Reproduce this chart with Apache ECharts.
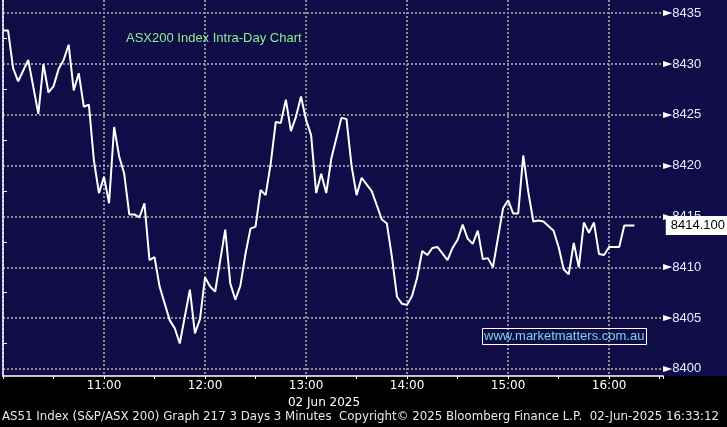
<!DOCTYPE html>
<html>
<head>
<meta charset="utf-8">
<script src="https://cdn.jsdelivr.net/npm/echarts@6/dist/echarts.min.js"></script>
<style>
  html, body { margin: 0; padding: 0; background: #000; }
  #chart { width: 727px; height: 427px; }
</style>
</head>
<body>
<div id="chart"></div>
<script>
// Minutes after 10:00 (3-minute bars) and index level at each visible vertex
const minutesFromOpen = [0,3,6,9,15,21,24,27,30,33,36,39,42,45,48,51,54,57,60,63,66,69,72,75,78,81,84,87,90,93,99,102,105,111,114,117,120,123,126,132,135,138,141,144,147,150,153,156,159,162,165,168,171,174,177,180,183,186,189,192,195,201,204,207,210,213,219,222,225,228,231,234,237,240,243,246,249,252,255,258,264,267,270,273,276,279,282,285,288,291,297,300,303,306,309,312,315,318,321,327,330,333,336,339,342,345,348,351,354,357,360,366,369,375];
const levels = [8433.3,8433.3,8429.6,8428.3,8430.4,8425.1,8430.0,8427.2,8427.8,8429.5,8430.4,8431.9,8427.4,8429.1,8425.8,8426.0,8420.5,8417.3,8418.9,8416.3,8423.8,8420.9,8419.2,8415.2,8415.2,8414.9,8416.3,8410.7,8411.0,8408.1,8404.8,8404.0,8402.5,8407.8,8403.5,8404.9,8409.0,8408.1,8407.6,8413.7,8408.4,8406.8,8408.2,8411.3,8413.8,8414.0,8417.6,8417.1,8420.2,8424.3,8424.2,8426.5,8423.4,8424.8,8426.8,8424.5,8423.0,8417.3,8419.2,8417.3,8420.7,8424.7,8424.6,8420.0,8417.1,8418.8,8417.5,8416.1,8414.7,8414.3,8411.0,8407.1,8406.4,8406.3,8407.2,8409.0,8411.6,8411.2,8411.9,8412.0,8410.7,8411.9,8412.7,8414.2,8412.8,8412.3,8413.6,8410.8,8410.9,8410.0,8415.8,8416.6,8415.3,8415.3,8421.0,8417.4,8414.5,8414.6,8414.5,8413.6,8412.0,8409.8,8409.3,8412.4,8410.0,8414.4,8413.4,8414.4,8411.3,8411.2,8412.0,8412.0,8414.1,8414.1];
const openHour = 10;
const lastPrice = 8414.1;
const yMin = 8399.3, yMax = 8436.3;
const xMax = 392;
const titleText = 'ASX200 Index Intra-Day Chart';
const dateText = '02 Jun 2025';
const watermarkText = 'www.marketmatters.com.au';
const footerText = 'AS51 Index (S&P/ASX 200) Graph 217 3 Days 3 Minutes  Copyright\u00A9 2025 Bloomberg Finance L.P.  02-Jun-2025 16:33:12';

const NAVY = '#0f0c47';
const GRID = '#8c8c94';

const chart = echarts.init(document.getElementById('chart'), null, { renderer: 'canvas' });
const seriesData = minutesFromOpen.map((m, i) => [m, levels[i]]);

chart.setOption({
  backgroundColor: '#000',
  animation: false,
  graphic: [{
    type: 'rect', left: 0, top: 0, z: -10, silent: true,
    shape: { width: 727, height: 376 }, style: { fill: NAVY }
  }],
  title: [
    { text: titleText, left: 126, top: 32, padding: 0,
      textStyle: { color: '#8ef08e', fontSize: 13, fontWeight: 'normal', fontFamily: 'Liberation Sans' } },
    { text: watermarkText, left: 482, top: 328, padding: [2, 2, 2, 2], borderColor: '#ffffff', borderWidth: 1,
      textStyle: { color: '#78d6e6', fontSize: 13, fontWeight: 'normal', fontFamily: 'Liberation Sans' } },
    { text: footerText, left: 2, top: 411, padding: 0,
      textStyle: { color: '#e8e8e8', fontSize: 11.8, fontWeight: 'normal', fontFamily: 'DejaVu Sans' } }
  ],
  grid: { left: 0, right: 64, top: 0, bottom: 51, containLabel: false },
  xAxis: {
    type: 'value', min: 0, max: xMax, interval: 60,
    name: dateText, nameLocation: 'middle', nameGap: 19,
    nameTextStyle: { color: '#ffffff', fontSize: 12, fontFamily: 'DejaVu Sans', padding: [0, 18, 0, 0], verticalAlign: 'top' },
    axisLine: { show: true, lineStyle: { color: '#ffffff', width: 1.5 } },
    axisTick: { show: true, length: 3, lineStyle: { color: '#ffffff' } },
    minorTick: { show: true, splitNumber: 2, length: 3, lineStyle: { color: '#ffffff' } },
    axisLabel: {
      color: '#ffffff', fontSize: 12, fontFamily: 'DejaVu Sans', margin: 4,
      formatter: v => (v > 0 && v % 60 === 0) ? (openHour + v / 60) + ':00' : ''
    },
    splitLine: { show: true, showMaxLine: false, lineStyle: { color: GRID, width: 2, type: [2, 2] } }
  },
  yAxis: {
    type: 'value', position: 'right', min: yMin, max: yMax, splitNumber: 7,
    axisLine: { show: true, lineStyle: { color: '#ffffff', width: 1.5 } },
    axisTick: { show: false },
    minorTick: { show: true, splitNumber: 2, length: 4, lineStyle: { color: '#ffffff' } },
    axisLabel: {
      margin: 0, fontFamily: 'Liberation Sans', fontSize: 13, color: '#e4f0ff',
      showMinLabel: false, showMaxLabel: false,
      formatter: v => (Math.abs(v / 5 - Math.round(v / 5)) < 1e-6) ? '{t|\u25BA}{v|' + Math.round(v) + '}' : '',
      rich: {
        t: { color: '#ffffff', fontSize: 12, fontFamily: 'DejaVu Sans' },
        v: { color: '#e4f0ff', fontSize: 13, fontFamily: 'Liberation Sans' }
      }
    },
    splitLine: { show: true, showMinLine: false, showMaxLine: false, lineStyle: { color: GRID, width: 2, type: [2, 2] } },
    axisPointer: {
      show: true, type: 'none', value: lastPrice, status: 'show', triggerTooltip: false,
      label: {
        show: true, formatter: p => Number(p.value).toFixed(3), backgroundColor: '#ffffff', color: '#000000',
        fontFamily: 'Liberation Sans', fontSize: 13, padding: [3, 2, 3, 5], margin: 3, borderRadius: 0
      }
    }
  },
  series: [{
    type: 'line', data: seriesData, showSymbol: false, symbol: 'none',
    lineStyle: { color: '#ffffff', width: 2 }, silent: true, z: 5
  }]
});
</script>
</body>
</html>
